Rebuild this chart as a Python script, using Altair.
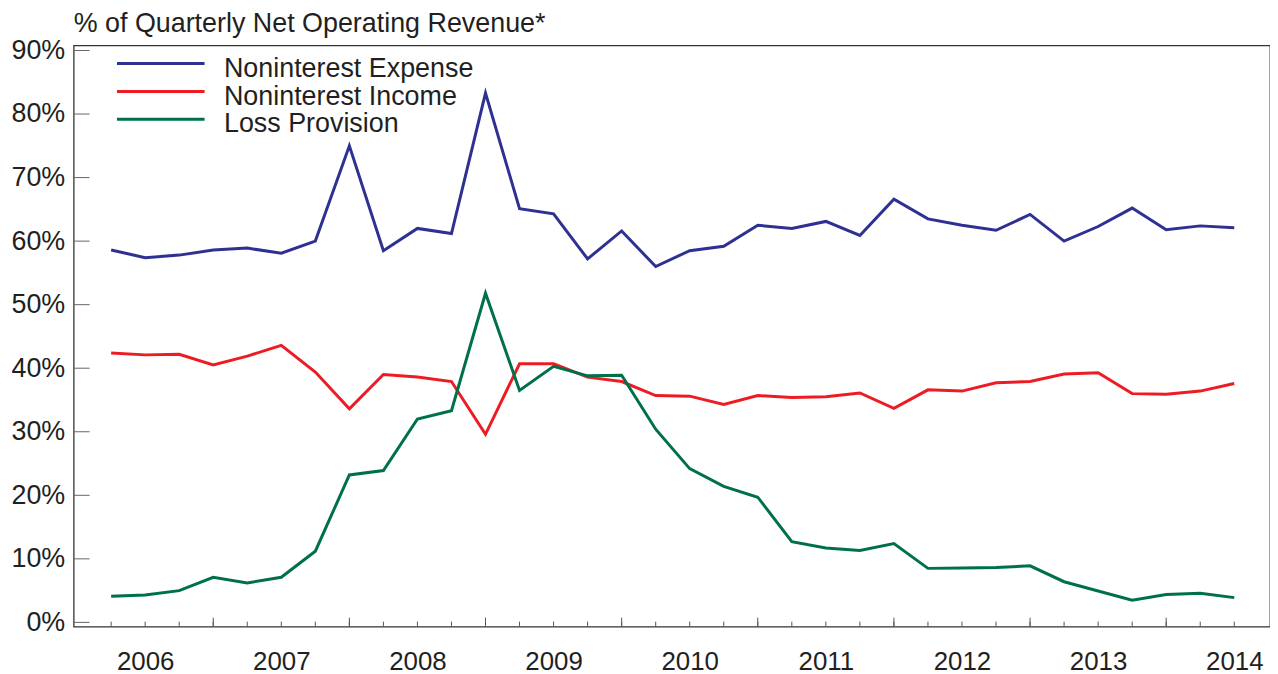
import altair as alt
import pandas as pd

# Quarter index 0..33 (Q4 2005 .. Q1 2014)
quarters = list(range(34))

noninterest_expense = [58.6, 57.4, 57.8, 58.6, 58.9, 58.1, 60.0, 75.0, 58.5, 62.0,
                       61.2, 83.3, 65.1, 64.3, 57.2, 61.6, 56.0, 58.5, 59.2, 62.5,
                       62.0, 63.1, 60.9, 66.6, 63.5, 62.5, 61.7, 64.2, 60.0, 62.3,
                       65.2, 61.8, 62.4, 62.1]
noninterest_income = [42.4, 42.1, 42.2, 40.5, 41.9, 43.6, 39.4, 33.6, 39.0, 38.6,
                      37.9, 29.6, 40.7, 40.7, 38.6, 37.9, 35.7, 35.6, 34.3, 35.7,
                      35.4, 35.5, 36.1, 33.7, 36.6, 36.4, 37.7, 37.9, 39.1, 39.3,
                      36.0, 35.9, 36.4, 37.6]
loss_provision = [4.1, 4.3, 5.0, 7.1, 6.2, 7.1, 11.2, 23.2, 23.9, 32.0,
                  33.3, 51.8, 36.5, 40.3, 38.8, 38.9, 30.4, 24.2, 21.4, 19.7,
                  12.7, 11.7, 11.3, 12.4, 8.5, 8.55, 8.65, 8.9, 6.4, 4.95,
                  3.5, 4.4, 4.6, 3.9]

series_names = ["Noninterest Expense", "Noninterest Income", "Loss Provision"]
series_colors = ["#2e3192", "#ed1c24", "#00704a"]

year_labels = ["2006", "2007", "2008", "2009", "2010", "2011", "2012", "2013", "2014"]
year_positions = [1, 5, 9, 13, 17, 21, 25, 29, 33]
major_tick_positions = [3, 7, 11, 15, 19, 23, 27, 31]
y_tick_values = [0, 10, 20, 30, 40, 50, 60, 70, 80, 90]

rows = []
for name, vals in zip(series_names, [noninterest_expense, noninterest_income, loss_provision]):
    for q, v in zip(quarters, vals):
        rows.append({"q": q, "v": v, "series": name})
df = pd.DataFrame(rows)

FONT = "Liberation Sans"
TXT = "#231f20"
W, H = 1202, 584

x_scale = alt.Scale(domain=[-1.1, 34.05], nice=False, zero=False)
y_scale = alt.Scale(domain=[-0.67, 90.8], nice=False, zero=False)

label_map = "{" + ",".join(f"'{p}':'{l}'" for p, l in zip(year_positions, year_labels)) + "}"

x_axis = alt.Axis(values=year_positions, labelExpr=f"{label_map}[''+datum.value]",
                  ticks=False, domain=False, grid=False, labelFont=FONT,
                  labelFontSize=26, labelColor=TXT, labelPadding=22,
                  labelOverlap=False, labelBound=False, title=None)
y_axis = alt.Axis(values=y_tick_values, labelExpr="datum.value + '%'",
                  ticks=False, domain=False, grid=False, labelFont=FONT,
                  labelFontSize=27, labelColor=TXT, labelPadding=9,
                  labelOverlap=False, labelBound=False, title=None)

# legend key: a horizontal stroke sitting slightly above the label's centre
legend_symbol = "M-1,-0.12H1"

lines = alt.Chart(df).mark_line(strokeWidth=3).encode(
    x=alt.X("q:Q", scale=x_scale, axis=x_axis),
    y=alt.Y("v:Q", scale=y_scale, axis=y_axis),
    color=alt.Color("series:N", sort=series_names,
                    scale=alt.Scale(domain=series_names, range=series_colors),
                    legend=alt.Legend(orient="none", legendX=42, legendY=10, title=None,
                                      symbolType=legend_symbol, symbolSize=7744,
                                      symbolStrokeWidth=3, labelFont=FONT,
                                      labelFontSize=27, labelColor=TXT, labelOffset=18,
                                      rowPadding=0, clipHeight=27, labelLimit=0,
                                      padding=0)),
)

ytick_df = pd.DataFrame({"v": y_tick_values})
yticks = alt.Chart(ytick_df).mark_rule(color="#666666", strokeWidth=1).encode(
    y=alt.Y("v:Q", scale=y_scale, axis=y_axis),
    x=alt.value(0), x2=alt.value(16),
)

minor_df = pd.DataFrame({"q": quarters})
minor_ticks = alt.Chart(minor_df).mark_rule(color="#555555", strokeWidth=1).encode(
    x=alt.X("q:Q", scale=x_scale, axis=x_axis),
    y=alt.value(H), y2=alt.value(H - 5),
)
major_df = pd.DataFrame({"q": major_tick_positions})
major_ticks = alt.Chart(major_df).mark_rule(color="#555555", strokeWidth=1).encode(
    x=alt.X("q:Q", scale=x_scale, axis=x_axis),
    y=alt.value(H), y2=alt.value(H - 9),
)

chart = alt.layer(lines, yticks, minor_ticks, major_ticks).properties(
    width=W, height=H,
    padding={"left": 2, "right": 0, "top": 0, "bottom": 0},
    title=alt.TitleParams("% of Quarterly Net Operating Revenue*", anchor="start",
                          frame="group", font=FONT, fontSize=27, fontWeight="normal",
                          color=TXT, offset=-3, dy=-2),
).configure_view(stroke="#333333", strokeWidth=1.3)

chart.save("out.html", embed_options={"renderer": "svg", "actions": False})
